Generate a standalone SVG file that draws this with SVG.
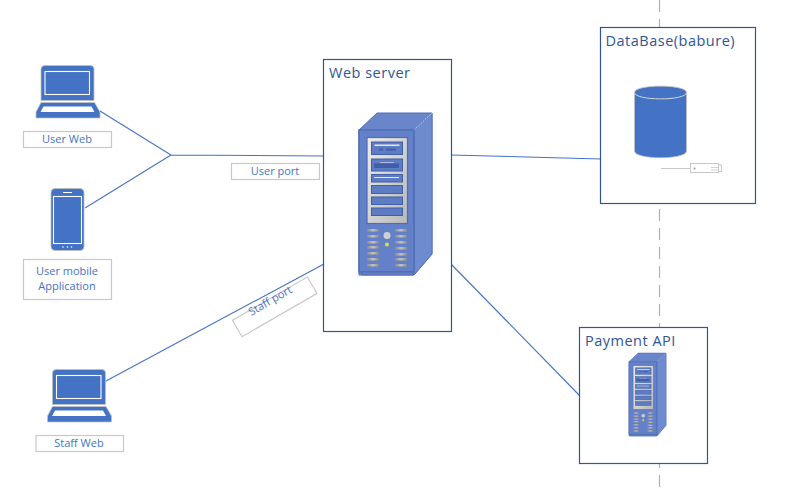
<svg xmlns="http://www.w3.org/2000/svg" xmlns:xlink="http://www.w3.org/1999/xlink" width="788" height="491" viewBox="0 0 788 491">
<style>
text{font-family:"Open Sans","Noto Sans","Liberation Sans",sans-serif}
.lbl{font-size:11px;fill:#4472c4;text-anchor:middle}
.ttl{font-size:14.5px;fill:#2f5597;letter-spacing:.5px}
.lb{fill:#fff;stroke:#c8c8c8;stroke-width:1.2}
.box{fill:#fff;stroke:#2f5597;stroke-width:1.2}
.conn{fill:none;stroke:#4472c4;stroke-width:1.1}
.blue{fill:#4472c4;stroke:#bfbfbf;stroke-width:.8}
.w{fill:none;stroke:#fff;stroke-width:1.1}
.f{fill:#6a86cb;stroke:#4e6db5;stroke-width:1}
.sl{fill:#5e7cc4;stroke:#3f5fa8;stroke-width:1}
.v{fill:url(#vent)}
</style>
<defs>
<linearGradient id="vent"><stop offset="0" stop-color="#8a8a8a"/><stop offset=".5" stop-color="#c4c4c4"/><stop offset="1" stop-color="#8a8a8a"/></linearGradient>
<linearGradient id="panel" x1="0" y1="0" x2="1" y2="1"><stop offset="0" stop-color="#ececec"/><stop offset="1" stop-color="#b8b8b8"/></linearGradient>
<symbol id="laptop" viewBox="0 0 65 54" width="65" height="54" overflow="visible">
<path class="blue" d="M5.500 4Q5.500 .5 9.500 .5H55Q58.500 .5 58.500 4V35.500H5.500Z"/>
<rect class="w" x="9.500" y="6.500" width="44.500" height="23"/>
<path class="blue" d="M5.500 37.500H59L64.500 47V53H.5V47Z"/>
<path d="M8 41.500H56L59 47H5Z" fill="#fff"/>
</symbol>
<g id="srv">
<path class="f" d="M359 130L377 113H432V254L414 275H359Z"/>
<path d="M414 130L432 113V254L414 275Z" fill="#6f8bd0" stroke="#5874bb"/>
<path d="M414 130L432 113" stroke="#c5d0ec" stroke-dasharray="2 1"/>
<path d="M359 130H414V272H359Z" fill="#6480c8" stroke="#4e6db5" stroke-width="1.500"/>
<path d="M362 272H413V275H362Z" fill="#6480c8" stroke="#4e6db5"/>
<rect x="367" y="137.500" width="40.500" height="86" fill="url(#panel)" stroke="#4e6db5" stroke-width="1.200"/>
<rect class="sl" x="371.500" y="142" width="31" height="12.500"/>
<rect x="374.500" y="144.500" width="25" height="1.500" fill="#e8e8e8"/>
<path d="M379 149.500H383M386 149.500H396" stroke="#3f5fa8" stroke-width="2"/>
<rect class="sl" x="371.500" y="159" width="31" height="12"/>
<path d="M374 163.500H399V168H374Z" fill="#3f5fa8"/>
<path d="M380 162.500H394" stroke="#a9b8de"/>
<rect class="sl" x="371.500" y="174.500" width="31" height="7.500"/>
<path d="M374 177.500H399" stroke="#e8e8e8"/>
<rect class="sl" x="371.500" y="185.500" width="31" height="8"/>
<rect class="sl" x="371.500" y="197" width="31" height="7.500"/>
<rect class="sl" x="371.500" y="208" width="31" height="7.500"/>
<rect class="v" x="367" y="229" width="12" height="2.500"/><rect class="v" x="367" y="235" width="12" height="2.500"/><rect class="v" x="367" y="241" width="12" height="2.500"/><rect class="v" x="367" y="246" width="12" height="2.500"/><rect class="v" x="367" y="252" width="12" height="2.500"/><rect class="v" x="367" y="258" width="12" height="2.500"/><rect class="v" x="367" y="264" width="12" height="2.500"/>
<rect class="v" x="395" y="229" width="12" height="2.500"/><rect class="v" x="395" y="235" width="12" height="2.500"/><rect class="v" x="395" y="241" width="12" height="2.500"/><rect class="v" x="395" y="247" width="12" height="2.500"/><rect class="v" x="395" y="253" width="12" height="2.500"/><rect class="v" x="395" y="258" width="12" height="2.500"/><rect class="v" x="395" y="264" width="12" height="2.500"/>
<circle cx="387" cy="235.500" r="3.500" fill="#d0d0d0"/>
<circle cx="387" cy="244.500" r="2" fill="#c8e84a"/>
</g>
</defs>
<path d="M659.500 0V488" fill="none" stroke="#b0b0b0" stroke-width="1.200" stroke-dasharray="12 7"/>
<g id="connectors">
<path class="conn" d="M100 111L171 155L85 208M171 155L324 156"/>
<path class="conn" d="M106 381L324 264"/>
<path class="conn" d="M451 155L601 159"/>
<path class="conn" d="M451 264L580 396"/>
</g>
<g id="user-web"><use xlink:href="#laptop" href="#laptop" x="35.500" y="65"/><rect class="lb" x="23.500" y="131.500" width="88" height="16"/><text class="lbl" x="67" y="143">User Web</text></g>
<g id="user-mobile">
<rect class="blue" x="51" y="188.500" width="33" height="62" rx="4"/>
<rect class="w" x="53.500" y="196.500" width="28" height="47"/>
<path d="M63 192.500H72" stroke="#fff"/>
<circle cx="63" cy="247" r=".8" fill="#fff"/><circle cx="67.500" cy="247" r=".8" fill="#fff"/><circle cx="71.500" cy="247" r=".8" fill="#fff"/>
<rect class="lb" x="23.500" y="259.500" width="88" height="40"/><text class="lbl" x="67" y="275">User mobile</text><text class="lbl" x="67" y="290">Application</text></g>
<g id="staff-web"><use xlink:href="#laptop" href="#laptop" x="47" y="369"/><rect class="lb" x="36" y="435.500" width="87.500" height="16"/><text class="lbl" x="79" y="447">Staff Web</text></g>
<g id="user-port"><rect class="lb" x="231.500" y="163.500" width="88" height="16"/><text class="lbl" x="275" y="175">User port</text></g>
<g id="staff-port"><rect class="lb" x="-43" y="-9.500" width="86.500" height="19" transform="translate(274.500 307) rotate(-30)"/><text class="lbl" transform="translate(272 304) rotate(-30)" x="0" y="0">Staff port</text></g>
<g id="web-server"><rect class="box" x="323.500" y="59.500" width="128" height="272"/><text class="ttl" x="329" y="78">Web server</text><use xlink:href="#srv" href="#srv"/></g>
<g id="database"><rect class="box" x="600.500" y="27.500" width="155" height="176"/><text class="ttl" x="605.500" y="46">DataBase(babure)</text>
<path class="blue" d="M634.500 92.500C634.500 84 686.500 84 686.500 92.500V151C686.500 160 634.500 160 634.500 151Z"/>
<path d="M634.500 92.500C634.500 101 686.500 101 686.500 92.500" fill="none" stroke="#d5d5d5" stroke-width="1"/>
<path d="M661 168.500H690.500" stroke="#c8c8c8"/>
<rect x="690.500" y="163.500" width="28" height="9" fill="#fff" stroke="#c8c8c8"/>
<rect x="718.500" y="165" width="3" height="6.500" fill="#fff" stroke="#c8c8c8"/>
<circle cx="694.500" cy="168.500" r="1" fill="#7f95cf"/>
<path d="M711 167.500H718M711 170H718" stroke="#c8c8c8" stroke-width=".8"/></g>
<g id="payment-api"><rect class="box" x="579.500" y="327.500" width="128" height="136"/><text class="ttl" x="585" y="346">Payment API</text><use xlink:href="#srv" href="#srv" transform="translate(629 353) scale(.507 .512) translate(-359 -113)"/></g>
</svg>
